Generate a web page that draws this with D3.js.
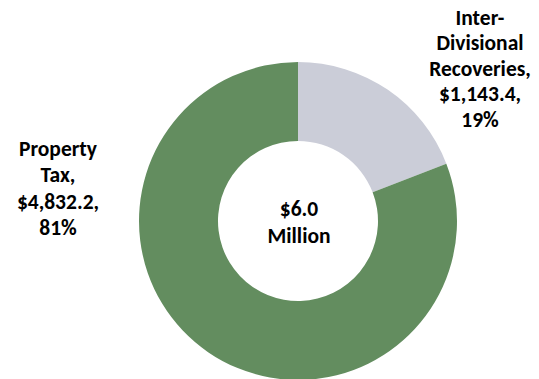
<!DOCTYPE html>
<html>
<head>
<meta charset="utf-8">
<script src="https://cdn.jsdelivr.net/npm/d3@7"></script>
<style>
  html, body { margin: 0; padding: 0; background: #ffffff; }
  svg { display: block; }
  text { font-family: Carlito, Lato, "Liberation Sans", sans-serif; font-weight: 700; fill: #000; }
</style>
</head>
<body>
<svg id="chart" width="539" height="379"></svg>
<script>
// Revenue sources (thousands of dollars)
const categories = ["Inter-Divisional Recoveries", "Property Tax"];
const values = [1143.4, 4832.2];
const percents = ["19%", "81%"];
const colors = ["#cbcdd8", "#638d5f"];
const labelLines = [
  ["Inter-", "Divisional", "Recoveries,", "$1,143.4,", "19%"],
  ["Property", "Tax,", "$4,832.2,", "81%"]
];
const centerLines = ["$6.0", "Million"];

const svg = d3.select("#chart");
const cx = 298, cy = 221, outerR = 159, innerR = 80;

const data = categories.map((c, i) => ({ name: c, value: values[i], color: colors[i], lines: labelLines[i] }));

const pie = d3.pie().value(d => d.value).sort(null);
const arc = d3.arc().innerRadius(innerR).outerRadius(outerR);

const g = svg.append("g").attr("transform", `translate(${cx},${cy})`);
const arcs = pie(data);

g.selectAll("path.slice")
  .data(arcs)
  .join("path")
  .attr("class", "slice")
  .attr("d", arc)
  .attr("fill", d => d.data.color);

// Data labels sit outside the ring
const fontSize = 21.5, lineH = 25.5;
const labelPos = [
  { x: 480, y: 17 },  // first-line center of Inter-Divisional label
  { x: 58, y: 148 }   // first-line center of Property Tax label
];

arcs.forEach((a, i) => {
  const t = svg.append("text")
    .attr("text-anchor", "middle")
    .attr("font-size", fontSize);
  a.data.lines.forEach((ln, j) => {
    t.append("tspan")
      .attr("x", labelPos[i].x)
      .attr("y", labelPos[i].y + j * (i === 1 ? 26.5 : lineH))
      .attr("dy", "0.35em")
      .text(ln);
  });
});

// Total in the hole
const ct = g.append("text").attr("text-anchor", "middle").attr("font-size", fontSize);
centerLines.forEach((ln, j) => {
  ct.append("tspan")
    .attr("x", 1)
    .attr("y", -13 + j * 27)
    .attr("dy", "0.35em")
    .text(ln);
});
</script>
</body>
</html>
